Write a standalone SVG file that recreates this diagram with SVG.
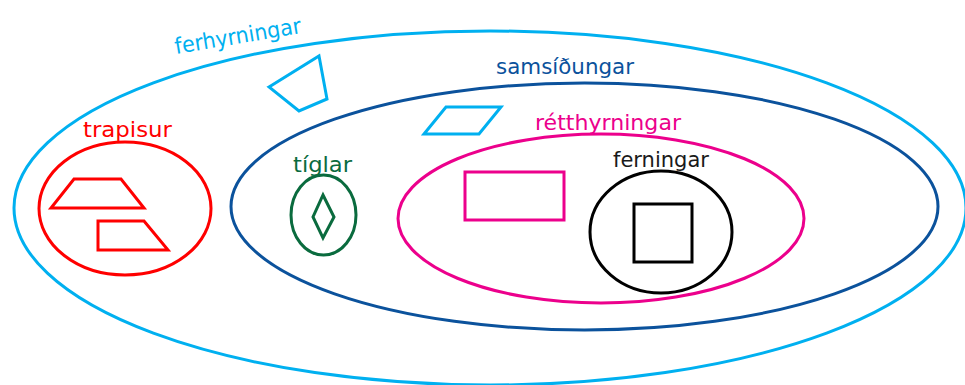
<svg xmlns="http://www.w3.org/2000/svg" width="965" height="385" viewBox="0 0 965 385">
<style>
.s{fill:none;stroke-width:3;stroke-linejoin:miter}
.t{font-family:"DejaVu Sans",sans-serif;font-size:22px}
.lb{stroke:#00b0f0}.db{stroke:#0b529c}.mg{stroke:#ec008c}.rd{stroke:#ff0000}.gr{stroke:#0a6b3e}.bk{stroke:#000}
</style>
<rect width="965" height="385" fill="#fff"/>
<g id="ferhyrningar">
<ellipse class="s lb" cx="490" cy="208" rx="476" ry="177"/>
<text class="t" fill="#00b0f0" x="176" y="54" transform="rotate(-9.5 176 54)" textLength="128" lengthAdjust="spacingAndGlyphs">ferhyrningar</text>
<polygon class="s lb" points="269,87 319,56 327,99 299,111"/>
</g>
<g id="trapisur">
<ellipse class="s rd" cx="125" cy="208.5" rx="86" ry="66.5"/>
<text class="t" fill="#ff0000" x="83" y="137" textLength="89" lengthAdjust="spacingAndGlyphs">trapisur</text>
<polygon class="s rd" points="74,179 121,179 144,208 51,208"/>
<polygon class="s rd" points="98,221 144,221 168,250 98,250"/>
</g>
<g id="samsidungar">
<ellipse class="s db" cx="584.5" cy="206.5" rx="353.5" ry="123.5"/>
<text class="t" fill="#0b529c" x="496" y="74" textLength="138" lengthAdjust="spacingAndGlyphs">samsíðungar</text>
<polygon class="s lb" points="424,134 446,107 501,107 479,134"/>
</g>
<g id="tiglar">
<ellipse class="s gr" cx="323.5" cy="215" rx="32.5" ry="40"/>
<text class="t" fill="#0a6b3e" x="293" y="172" textLength="59" lengthAdjust="spacingAndGlyphs">tíglar</text>
<polygon class="s gr" points="323,195 334,217 323,238 313,217"/>
</g>
<g id="retthyrningar">
<ellipse class="s mg" cx="601" cy="218.5" rx="203" ry="84.5"/>
<text class="t" fill="#ec008c" x="535" y="130" textLength="146" lengthAdjust="spacingAndGlyphs">rétthyrningar</text>
<rect class="s mg" x="465" y="172" width="99" height="48"/>
</g>
<g id="ferningar">
<ellipse class="s bk" cx="661" cy="232" rx="71" ry="61"/>
<text class="t" fill="#1a1a1a" x="613" y="167" textLength="96" lengthAdjust="spacingAndGlyphs">ferningar</text>
<rect class="s bk" x="634" y="204" width="58" height="58"/>
</g>
<g id="connectors"/>
</svg>
